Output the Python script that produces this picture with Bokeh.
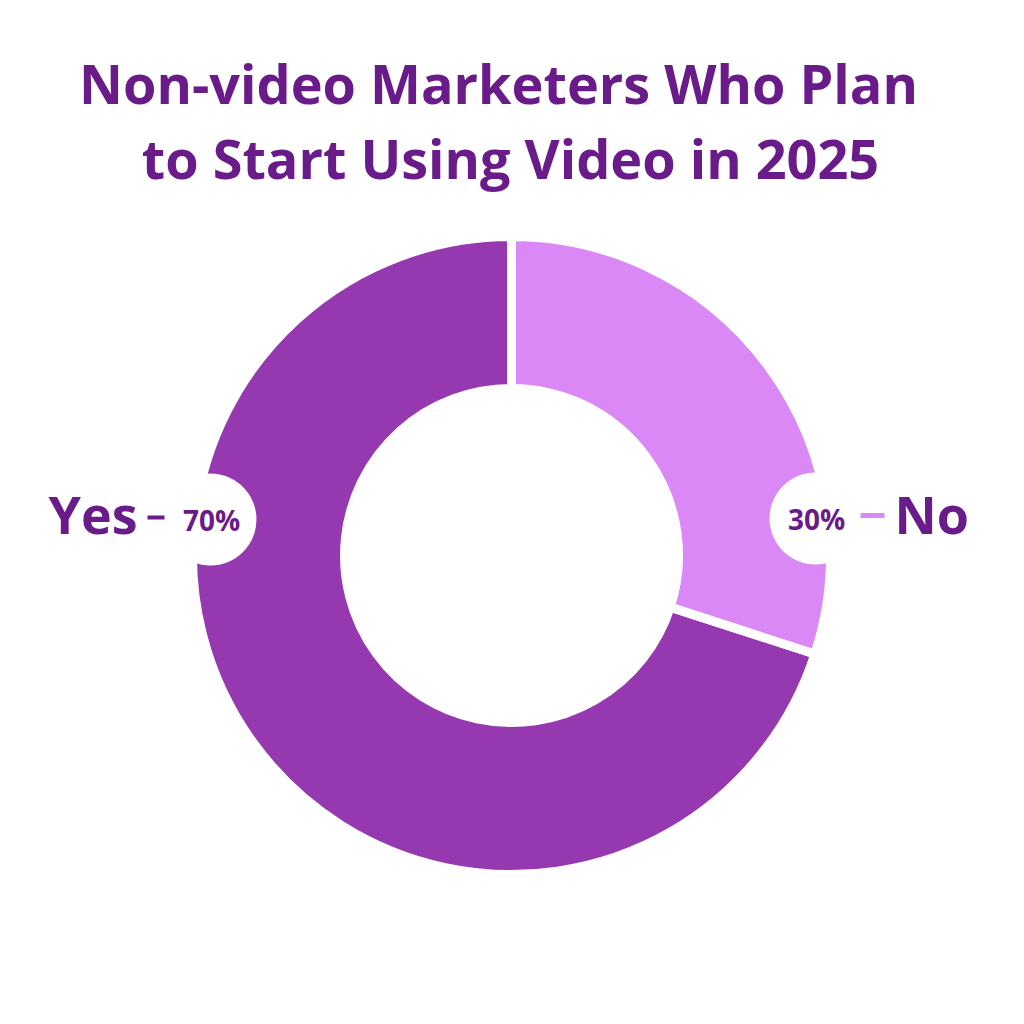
import math
from bokeh.plotting import figure
from bokeh.models import ColumnDataSource, Range1d
from bokeh.core.properties import value
from bokeh.embed import file_html
from bokeh.resources import INLINE

# ---- data ----
categories = ["Yes", "No"]
shares = [70, 30]
pct_labels = ["70%", "30%"]
title_lines = ["Non-video Marketers Who Plan", "to Start Using Video in 2025"]
slice_colors = ["#9638B0", "#DA88F6"]

W = H = 1008
p = figure(width=W, height=H, output_backend="svg", toolbar_location=None,
           x_range=Range1d(0, W), y_range=Range1d(0, H), min_border=0,
           background_fill_color="white", border_fill_color="white")
p.axis.visible = False
p.grid.visible = False
p.outline_line_color = None

def px(x):
    return x
def py(y):
    return H - y

cx, cy = px(511), py(555)

total = sum(shares)
no_frac = shares[1] / total
top = math.pi / 2
ends_no = top - 2 * math.pi * no_frac
starts = [top, top]
ends = [ends_no, ends_no]
dirs = ["anticlock", "clock"]

for i, cat in enumerate(categories):
    p.annular_wedge(x=cx, y=cy, inner_radius=167, outer_radius=319,
                    start_angle=starts[i], end_angle=ends[i], direction=dirs[i],
                    fill_color=slice_colors[i], line_color="white", line_width=9)

# title
title_color = "#6A1B8A"
p.text(x=[px(498), px(510)], y=[py(82), py(157)], text=title_lines,
       text_font=value("Open Sans"), text_font_style="bold", text_font_size="54px",
       text_color=title_color, text_align="center", text_baseline="middle")

# label bubbles
bub = ColumnDataSource(dict(x=[px(210), px(815)], y=[py(519), py(518)]))
p.circle(x="x", y="y", radius=46, source=bub, fill_color="white", line_color=None)
p.text(x=[px(211), px(816)], y=[py(519), py(518)], text=pct_labels,
       text_font=value("Open Sans"), text_font_style="bold", text_font_size="28px",
       text_color=title_color, text_align="center", text_baseline="middle")

# dashes
p.segment(x0=[px(147)], y0=[py(517)], x1=[px(164)], y1=[py(517)],
          line_color=title_color, line_width=4)
p.segment(x0=[px(860)], y0=[py(515)], x1=[px(884)], y1=[py(515)],
          line_color=slice_colors[1], line_width=5)

# category names
p.text(x=[px(137)], y=[py(513)], text=[categories[0]],
       text_font=value("Open Sans"), text_font_style="bold", text_font_size="52px",
       text_color=title_color, text_align="right", text_baseline="middle")
p.text(x=[px(894)], y=[py(513)], text=[categories[1]],
       text_font=value("Open Sans"), text_font_style="bold", text_font_size="52px",
       text_color=title_color, text_align="left", text_baseline="middle")

open("out.html", "w").write(file_html(p, INLINE))
